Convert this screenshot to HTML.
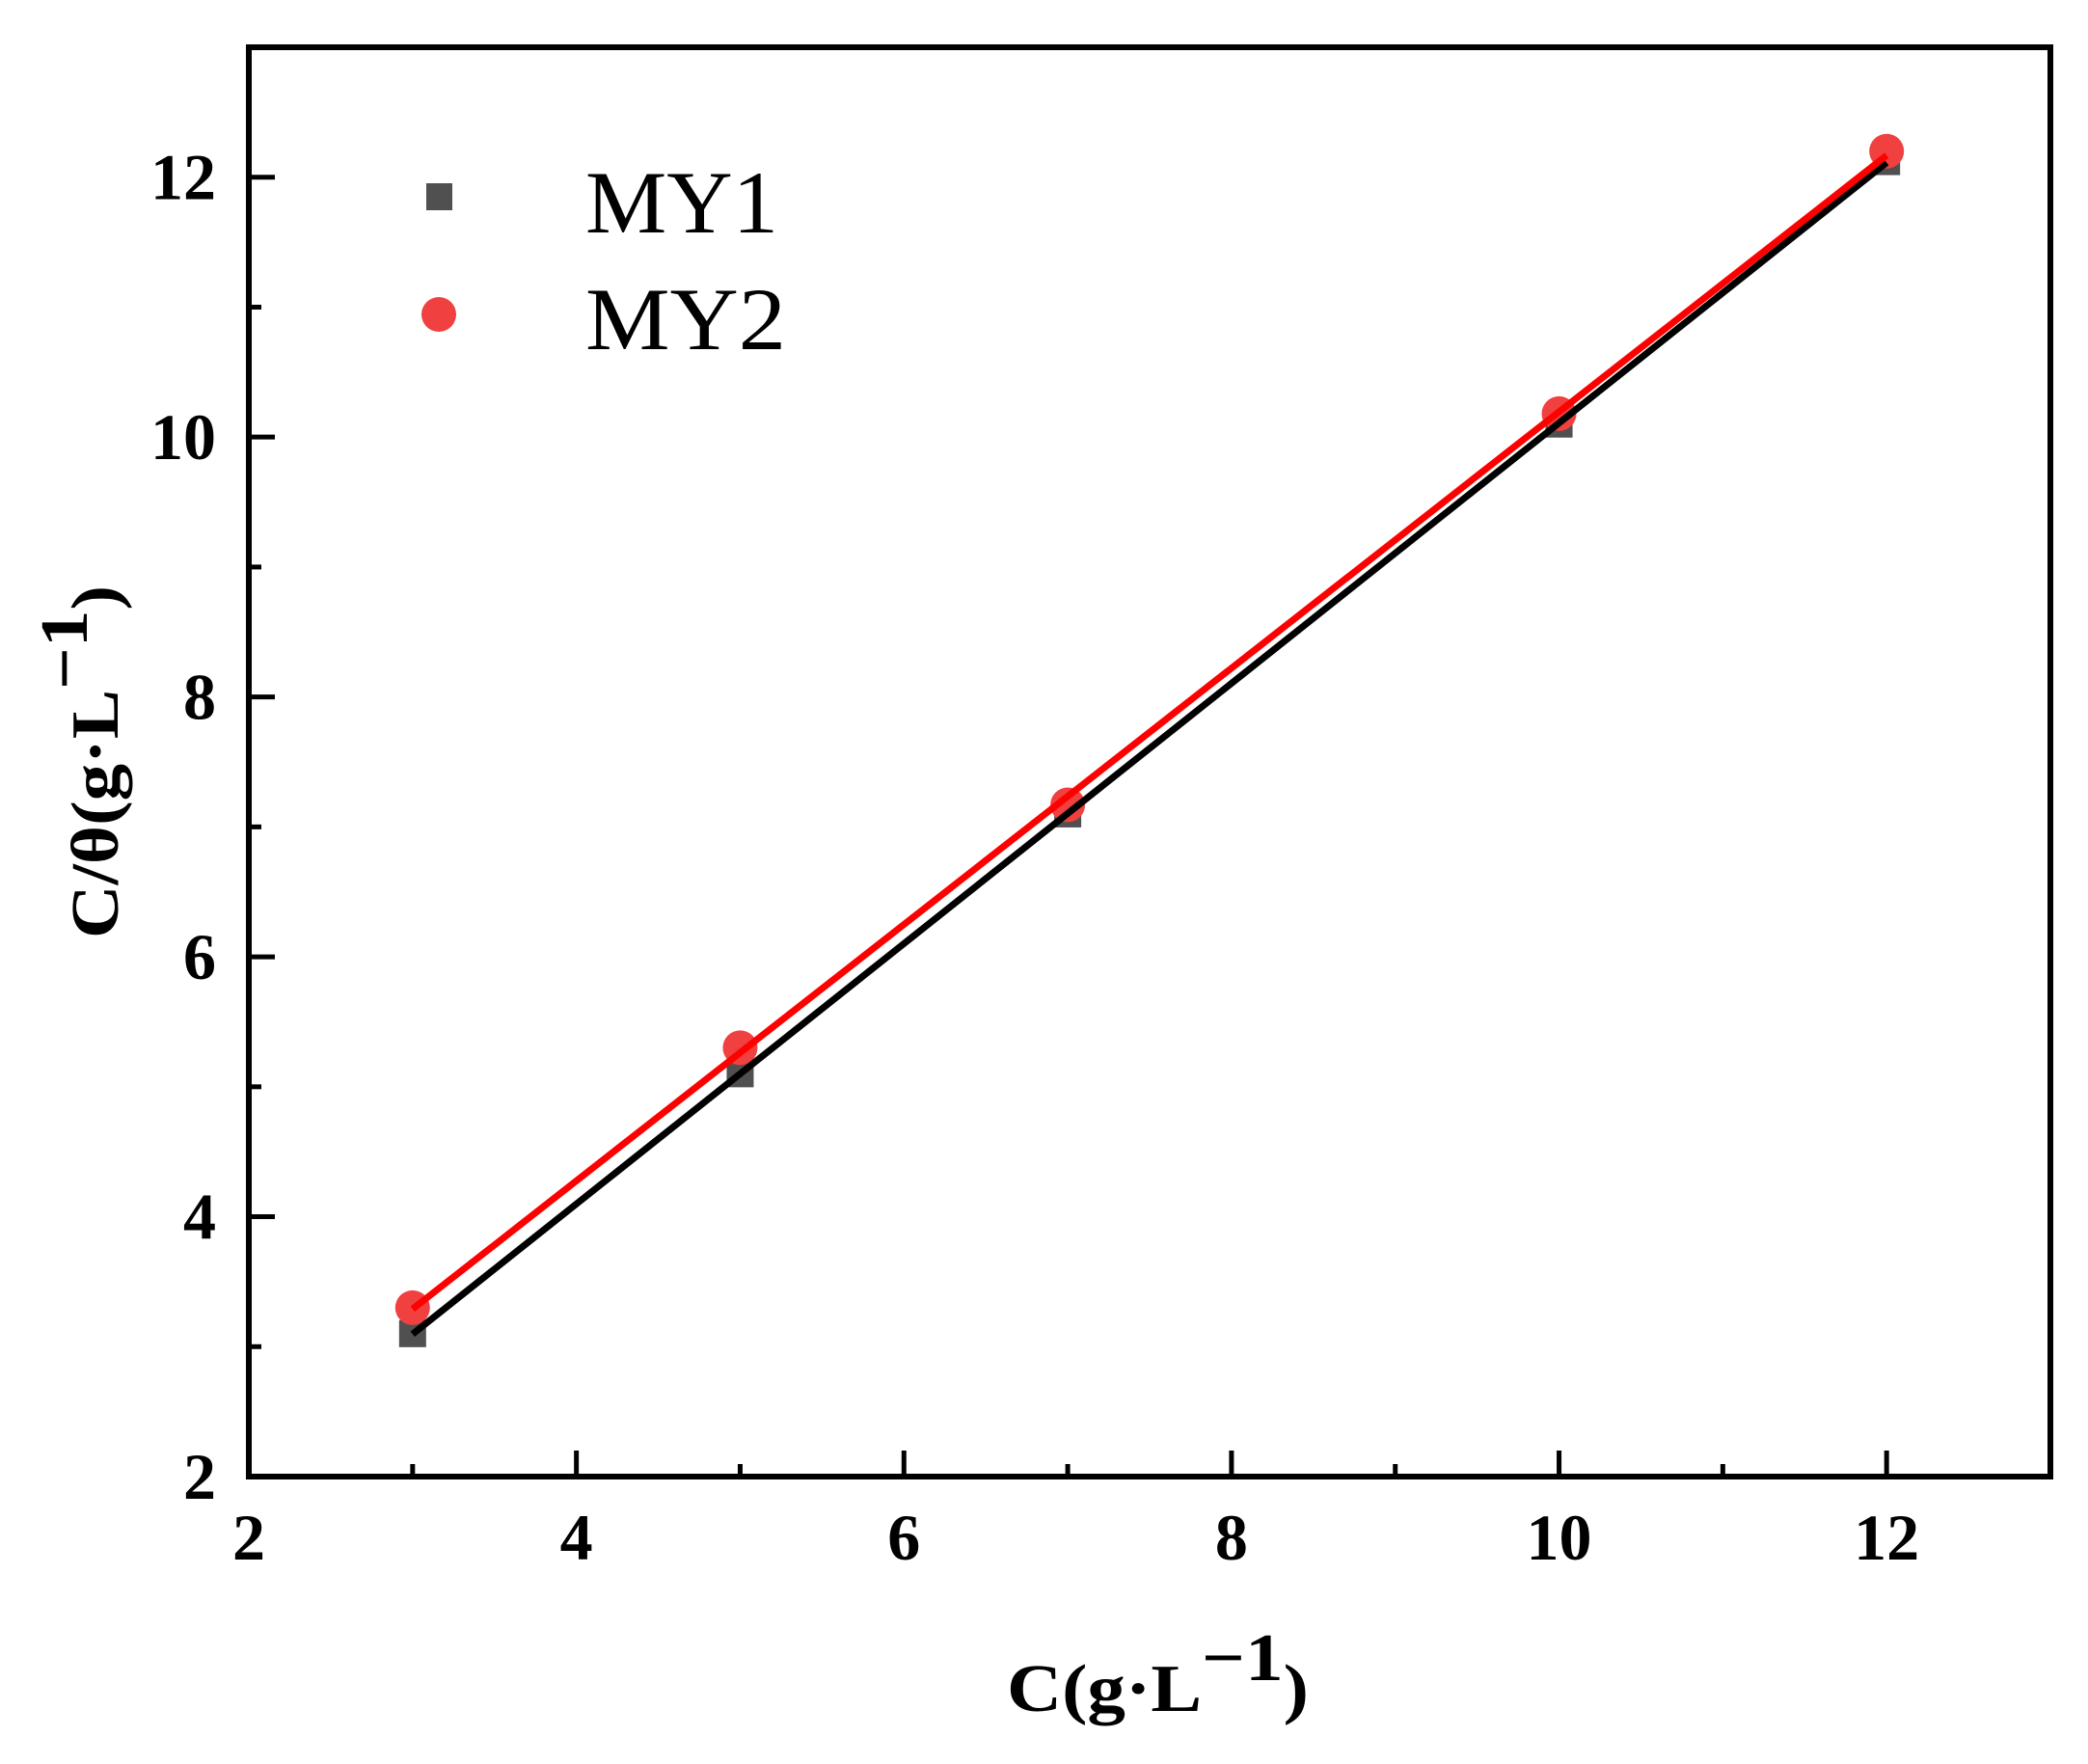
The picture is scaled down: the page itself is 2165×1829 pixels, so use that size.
<!DOCTYPE html>
<html><head><meta charset="utf-8"><style>
html,body{margin:0;padding:0;background:#fff;}
svg{display:block;}
text{font-family:"Liberation Serif","Times New Roman",Times,"Noto Serif CJK SC",serif;}
</style></head><body>
<svg id="chart" width="2165" height="1829" viewBox="0 0 2165 1829" xmlns="http://www.w3.org/2000/svg">
<g id="plot"></g>
</svg>
<script>
const xCats = [3, 5, 7, 10, 12];
const my1 = [3.1, 5.1, 7.1, 10.1, 12.12];
const my2 = [3.3, 5.3, 7.17, 10.18, 12.2];
const xTicks = [2, 4, 6, 8, 10, 12];
const yTicks = [2, 4, 6, 8, 10, 12];
const xMinor = [3, 5, 7, 9, 11];
const yMinor = [3, 5, 7, 9, 11];

const L = 258, R = 2126, T = 49, B = 1531;
const xMin = 2, xMax = 13, yMin = 2, yMax = 13;
const sx = v => L + (v - xMin) / (xMax - xMin) * (R - L);
const sy = v => B - (v - yMin) / (yMax - yMin) * (B - T);
const NS = 'http://www.w3.org/2000/svg';
const g = document.getElementById('plot');
function mk(tag, attrs, parent) {
  const e = document.createElementNS(NS, tag);
  for (const k in attrs) e.setAttribute(k, attrs[k]);
  (parent || g).appendChild(e);
  return e;
}
function fit(xs, ys) {
  const n = xs.length;
  const mx = xs.reduce((a, b) => a + b) / n, my = ys.reduce((a, b) => a + b) / n;
  let num = 0, den = 0;
  for (let i = 0; i < n; i++) { num += (xs[i] - mx) * (ys[i] - my); den += (xs[i] - mx) ** 2; }
  const m = num / den; return [m, my - m * mx];
}
xCats.forEach((x, i) => {
  const r = mk('rect', {x: sx(x) - 14, y: sy(my1[i]) - 14, width: 28, height: 28, fill: '#505050'});
  
  
});
xCats.forEach((x, i) => {
  const c = mk('ellipse', {cx: sx(x), cy: sy(my2[i]), rx: 18, ry: 18, fill: '#f04040'});
  
  
});
[[my1, '#000', 'my1-fit-line'], [my2, '#ff0000', 'my2-fit-line']].forEach(([ys, col, nm]) => {
  const [m, b] = fit(xCats, ys);
  const x0 = xCats[0], x1 = xCats[xCats.length - 1];
  const ln = mk('line', {x1: sx(x0), y1: sy(m * x0 + b), x2: sx(x1), y2: sy(m * x1 + b), stroke: col, 'stroke-width': 7});
  
  
});
const fr = mk('rect', {x: L, y: T, width: R - L, height: B - T, fill: 'none', stroke: '#000', 'stroke-width': 6});


xTicks.forEach(v => {
  const t = mk('line', {x1: sx(v), y1: B, x2: sx(v), y2: B - 27, stroke: '#000', 'stroke-width': 5});
  
  
  const tx = mk('text', {x: sx(v), y: 1617, 'text-anchor': 'middle', 'font-size': 68, 'font-weight': 'bold'});
  tx.textContent = v;
  
  
});
xMinor.forEach(v => {
  const t = mk('line', {x1: sx(v), y1: B, x2: sx(v), y2: B - 13, stroke: '#000', 'stroke-width': 5});
  
  
});
yTicks.forEach(v => {
  const t = mk('line', {x1: L, y1: sy(v), x2: L + 27, y2: sy(v), stroke: '#000', 'stroke-width': 5});
  
  
  const tx = mk('text', {x: 224, y: sy(v) + 23, 'text-anchor': 'end', 'font-size': 68, 'font-weight': 'bold'});
  tx.textContent = v;
  
  
});
yMinor.forEach(v => {
  const t = mk('line', {x1: L, y1: sy(v), x2: L + 13, y2: sy(v), stroke: '#000', 'stroke-width': 5});
  
  
});
</script>
<svg style="position:absolute;left:0;top:0" width="2165" height="1829" xmlns="http://www.w3.org/2000/svg">
  <g>
    <rect x="442" y="190" width="27" height="28" fill="#505050"/>
    <text x="607" y="241" font-size="92" textLength="200" lengthAdjust="spacingAndGlyphs">MY1</text>
    <ellipse cx="455" cy="326" rx="18" ry="18" fill="#f04040"/>
    <text x="607" y="362" font-size="92" textLength="208" lengthAdjust="spacingAndGlyphs">MY2</text>
  </g>
  <text x="1044" y="1774" font-size="70" font-weight="bold" textLength="313" lengthAdjust="spacingAndGlyphs">C(g·L<tspan dy="-32">−1</tspan><tspan dy="32">)</tspan></text>
  <text transform="translate(122,973) rotate(-90)" font-size="70" font-weight="bold" textLength="366" lengthAdjust="spacingAndGlyphs">C/θ(g·L<tspan dy="-32">−1</tspan><tspan dy="32">)</tspan></text>
</svg>
</body></html>
